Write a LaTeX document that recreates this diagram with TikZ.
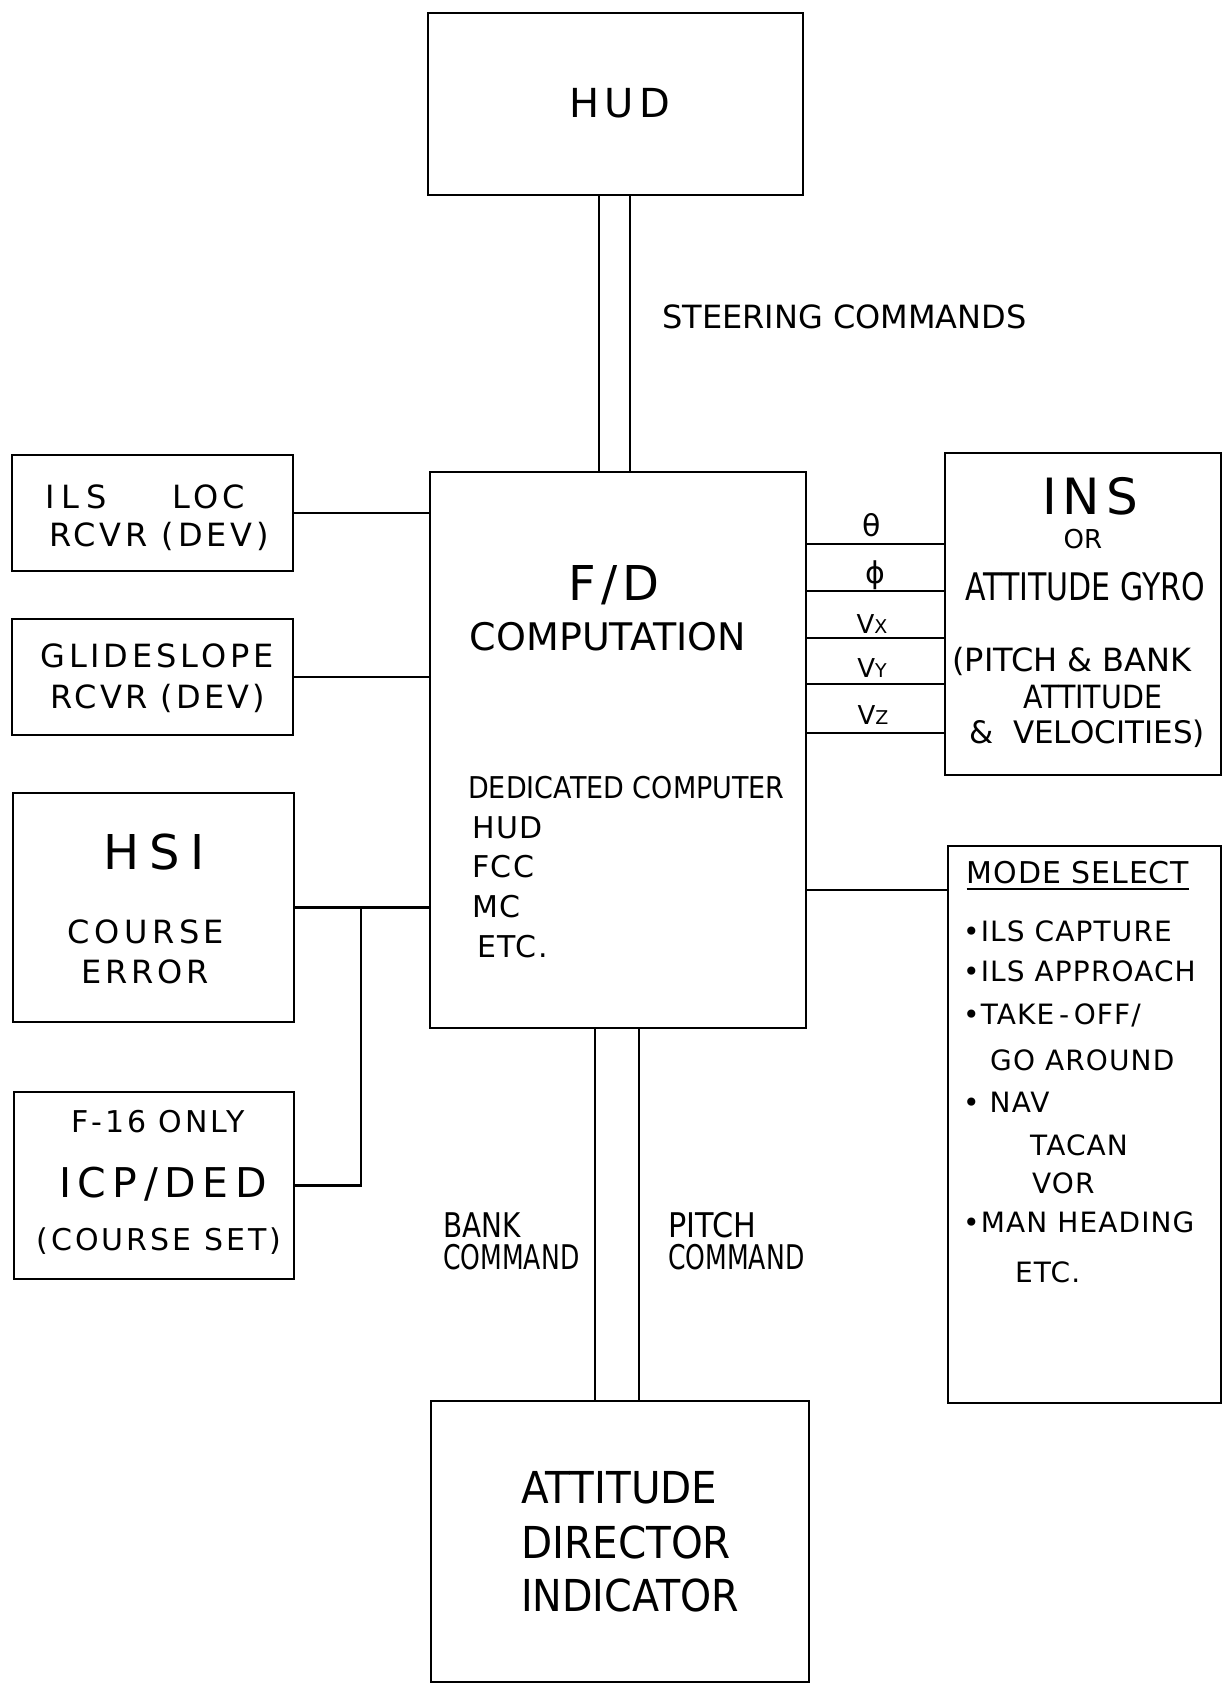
\documentclass[tikz,border=0pt]{standalone}
\usepackage{fontspec}
\setmainfont{DejaVu Sans}
\newcommand\hfs[1]{\fontsize{#1}{#1}\selectfont}
\newcommand\hls[1]{\addfontfeature{LetterSpace=#1}}
\newcommand\hst[1]{\addfontfeature{FakeStretch=#1}}
\begin{document}
\begin{tikzpicture}[x=1pt,y=-1pt,
  box/.style={draw, rectangle, line width=2.8pt, inner sep=0pt, outer sep=0pt},
  conn/.style={line width=2.5pt},
  tc/.style={inner sep=0pt, anchor=base, yshift={-0.3645*#1}, font=\hfs{#1}},
  tl/.style={inner sep=0pt, anchor=base west, yshift={-0.3645*#1}, font=\hfs{#1}}]
\useasboundingbox (0,0) rectangle (1221,1684);

% boxes
\node[box, minimum width=375pt, minimum height=182pt] (hud) at (615.5,104) {};
\node[box, minimum width=376pt, minimum height=556pt] (fd) at (618,750) {};
\node[box, minimum width=281pt, minimum height=116pt] (ils) at (152.5,513) {};
\node[box, minimum width=281pt, minimum height=116pt] (gs) at (152.5,677) {};
\node[box, minimum width=281pt, minimum height=229pt] (hsi) at (153.5,907.5) {};
\node[box, minimum width=280pt, minimum height=187pt] (icp) at (154,1185.5) {};
\node[box, minimum width=276pt, minimum height=322pt] (ins) at (1083,614) {};
\node[box, minimum width=273pt, minimum height=557pt] (ms) at (1084.5,1124.5) {};
\node[box, minimum width=378pt, minimum height=281pt] (adi) at (620,1541.5) {};

% connectors
\draw[conn] ([xshift=-16.5pt]hud.south) -- ([xshift=-16.5pt]hud.south |- fd.north);
\draw[conn] ([xshift=14.5pt]hud.south) -- ([xshift=14.5pt]hud.south |- fd.north);
\draw[conn] ([xshift=-23pt]fd.south) -- ([xshift=-23pt]fd.south |- adi.north);
\draw[conn] ([xshift=21pt]fd.south) -- ([xshift=21pt]fd.south |- adi.north);
\draw[conn] (ils.east) -- (ils.east -| fd.west);
\draw[conn] (gs.east) -- (gs.east -| fd.west);
\draw[conn] (hsi.east) -- (hsi.east -| fd.west);
\draw[conn] (icp.east) -| ([xshift=67pt]hsi.east);
\draw[conn] ([yshift=70pt]ins.west) -- ([yshift=70pt]ins.west -| fd.east);
\draw[conn] ([yshift=23pt]ins.west) -- ([yshift=23pt]ins.west -| fd.east);
\draw[conn] ([yshift=-24pt]ins.west) -- ([yshift=-24pt]ins.west -| fd.east);
\draw[conn] ([yshift=-70pt]ins.west) -- ([yshift=-70pt]ins.west -| fd.east);
\draw[conn] ([yshift=-119pt]ins.west) -- ([yshift=-119pt]ins.west -| fd.east);
\draw[conn] ([yshift=234.5pt]ms.west) -- ([yshift=234.5pt]ms.west -| fd.east);

% HUD
\node[tc=40] (hudA) at (620,103) {\hls{13}HUD};
\node[tl=32] (steer) at (662,317) {STEERING COMMANDS};

% F/D
\node[tc=48] (fdA) at (614,583) {\hls{11}F/D};
\node[tc=38] (fdB) at (608,637) {COMPUTATION};
\node[tl=30] (fdC) at (468,788) {\hst{0.9}DEDICATED COMPUTER};
\node[tl=30] (fdD) at (472,828) {\hls{5}HUD};
\node[tl=30] (fdE) at (472,867) {\hls{5}FCC};
\node[tl=30] (fdF) at (472,907) {\hls{5}MC};
\node[tl=30] (fdG) at (477,947) {\hls{5}ETC.};

% left column
\node[tl=32] (ilsA) at (45,497) {{\hls{22}ILS}\hspace{66pt}{\hls{12}LOC}};
\node[tc=32] (ilsB) at (159,535) {\hls{12}RCVR (DEV)};
\node[tc=32] (gsA) at (157,656) {\hls{12}GLIDESLOPE};
\node[tc=32] (gsB) at (158,697) {\hls{10}RCVR (DEV)};
\node[tc=48] (hsiA) at (154,852) {\hls{22}HSI};
\node[tc=32] (hsiB) at (146,932) {\hls{14}COURSE};
\node[tc=32] (hsiC) at (145,972) {\hls{12}ERROR};
\node[tc=30] (icpA) at (158,1122) {\hls{10}F-16 ONLY};
\node[tc=41] (icpB) at (163,1183) {\hls{16}ICP/DED};
\node[tc=30] (icpC) at (159,1240) {\hls{10}(COURSE SET)};

% INS
\node[tc=50] (insA) at (1090,496) {\hls{12}INS};
\node[tc=26] (insB) at (1083,539) {OR};
\node[tc=38] (insC) at (1085,587) {\hst{0.79}ATTITUDE GYRO};
\node[tc=32] (insD) at (1072,660) {(PITCH \& BANK};
\node[tc=32] (insE) at (1093,697) {\hst{0.89}ATTITUDE};
\node[tc=31] (insF) at (1087,732) {\&\ \ VELOCITIES)};

% signal labels
\node[tc=30] (lth) at (872,526) {θ};
\node[tc=30] (lph) at (875,573) {ϕ};
\node[tc=26] (lvx) at (872,624) {V{\hfs{19}X}};
\node[tc=26] (lvy) at (872,668) {V{\hfs{19}Y}};
\node[tc=26] (lvz) at (873,715) {V{\hfs{19}Z}};

% MODE SELECT
\node[tc=30] (msA) at (1078,873) {\hls{3}MODE SELECT};
\draw[line width=2pt] ([yshift=-5pt]msA.base west) -- ([yshift=-5pt]msA.base east);
\node[tl=28] (msB) at (963,931) {\hls{4}•ILS CAPTURE};
\node[tl=28] (msC) at (963,971) {\hls{4}•ILS APPROACH};
\node[tl=28] (msD) at (963,1014) {\hls{4}•TAKE\,-\,OFF/};
\node[tl=28] (msE) at (990,1060) {\hls{4}GO AROUND};
\node[tl=28] (msF) at (963,1102) {\hls{4}•\hspace{10pt}NAV};
\node[tl=28] (msG) at (1030,1145) {\hls{4}TACAN};
\node[tl=28] (msH) at (1032,1183) {\hls{4}VOR};
\node[tl=28] (msI) at (963,1222) {\hls{4}•MAN HEADING};
\node[tl=28] (msJ) at (1015,1272) {\hls{4}ETC.};

% commands
\node[tl=34] (bkA) at (443,1225) {\hst{0.82}BANK};
\node[tl=34] (bkB) at (443,1257) {\hst{0.74}COMMAND};
\node[tl=34] (ptA) at (668,1225) {\hst{0.89}PITCH};
\node[tl=34] (ptB) at (668,1257) {\hst{0.74}COMMAND};

% ADI
\node[tl=44] (adiA) at (521,1487) {\hst{0.92}ATTITUDE};
\node[tl=44] (adiB) at (521,1542) {\hst{0.92}DIRECTOR};
\node[tl=44] (adiC) at (521,1595) {\hst{0.9}INDICATOR};
\end{tikzpicture}
\end{document}
